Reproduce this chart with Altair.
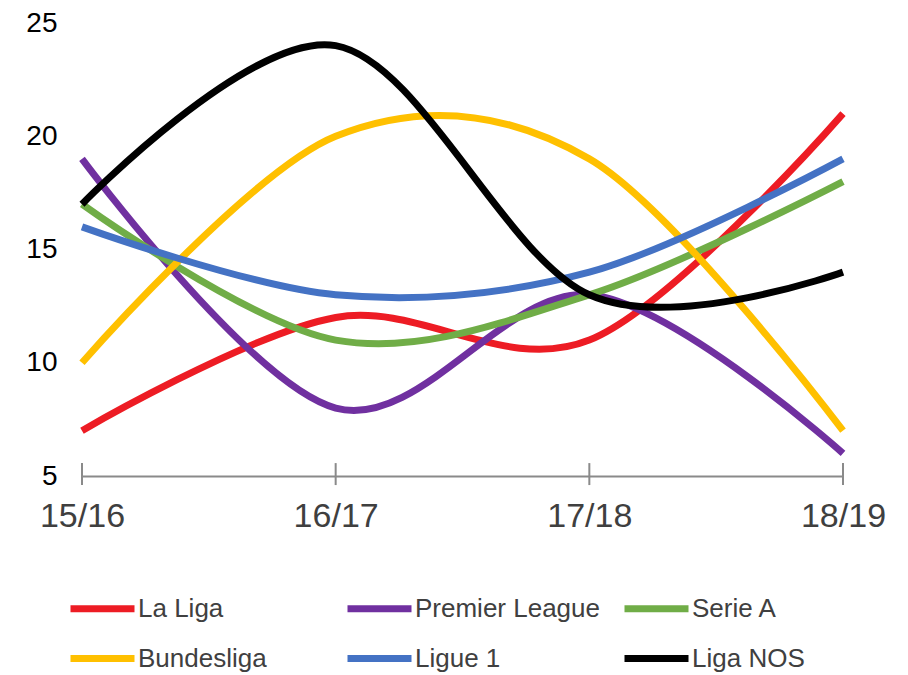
import altair as alt
import pandas as pd

seasons = ["15/16", "16/17", "17/18", "18/19"]
leagues = ["La Liga", "Premier League", "Serie A", "Bundesliga", "Ligue 1", "Liga NOS"]
colors = ["#ED1C24", "#7030A0", "#70AD47", "#FFC000", "#4472C4", "#000000"]

la_liga = [7, 12, 11, 21]
premier_league = [19, 8, 13, 6]
serie_a = [17, 11, 13, 18]
bundesliga = [10, 20, 19, 7]
ligue_1 = [16, 13, 14, 19]
liga_nos = [17, 24, 13, 14]

series = [la_liga, premier_league, serie_a, bundesliga, ligue_1, liga_nos]
rows = []
for li, (name, vals) in enumerate(zip(leagues, series)):
    for s, v in zip(seasons, vals):
        rows.append({"season": s, "league": name, "value": v, "order": li})
df = pd.DataFrame(rows)
ticks_df = pd.DataFrame({"season": seasons})

FONT = "Liberation Sans"

x_enc = alt.X(
    "season:N",
    sort=seasons,
    scale=alt.Scale(type="point", padding=0),
    axis=alt.Axis(
        title=None, labelAngle=0, labelAlign="center", labelFont=FONT,
        labelFontSize=34, labelColor="#3f3f3f", domainColor="#8a8a8a",
        domainWidth=2, ticks=False, grid=False, labelPadding=40,
        labelOverlap=False, labelFlush=False, labelBound=False,
    ),
)

lines = alt.Chart(df).mark_line(
    interpolate="cardinal", tension=0, strokeWidth=7, strokeCap="butt"
).encode(
    x=x_enc,
    y=alt.Y(
        "value:Q",
        scale=alt.Scale(domain=[5, 25], nice=False, zero=False),
        axis=alt.Axis(
            title=None, values=[5, 10, 15, 20, 25], domain=False, ticks=False,
            grid=False, labelFont=FONT, labelFontSize=28, labelColor="#000000",
            labelPadding=25,
        ),
    ),
    color=alt.Color(
        "league:N",
        sort=leagues,
        scale=alt.Scale(domain=leagues, range=colors),
        legend=alt.Legend(
            title=None, orient="none", legendX=-15, legendY=550,
            direction="horizontal", columns=3, symbolType="stroke",
            symbolSize=4096, symbolStrokeWidth=7, labelFont=FONT,
            labelFontSize=26, labelColor="#404040", gridAlign="all",
            columnPadding=10, rowPadding=-12, labelOffset=0, padding=0,
            labelLimit=400,
        ),
    ),
    order=alt.Order("order:Q"),
)

tick_rules = alt.Chart(ticks_df).mark_rule(color="#8a8a8a", strokeWidth=2).encode(
    x=alt.X("season:N", sort=seasons),
    y=alt.datum(4.6),
    y2=alt.datum(5.57),
)

chart = alt.layer(tick_rules, lines).properties(
    width=761,
    height=453,
    padding={"left": 74, "top": 15, "right": 57, "bottom": 199},
    autosize=alt.AutoSizeParams(type="none"),
).configure_view(stroke=None)

chart.save("out.html", embed_options={"renderer": "svg", "actions": False})
